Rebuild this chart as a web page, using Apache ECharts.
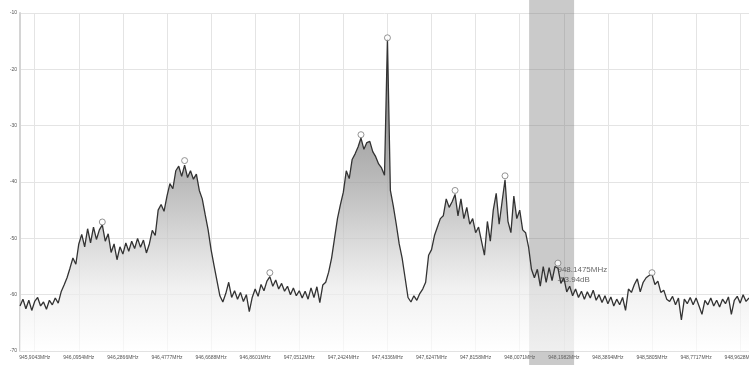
<!DOCTYPE html>
<html><head><meta charset="utf-8">
<script src="https://cdn.jsdelivr.net/npm/echarts@6/dist/echarts.min.js"></script>
<style>html,body{margin:0;padding:0;background:#fff}#c{width:749px;height:365px}</style>
</head><body><div id="c"></div>
<script>
// ---- data ----
const tickLabels = ['945,9043MHz','946,0954MHz','946,2866MHz','946,4777MHz','946,6688MHz','946,8601MHz',
  '947,0512MHz','947,2424MHz','947,4336MHz','947,6247MHz','947,8158MHz','948,0071MHz','948,1982MHz',
  '948,3894MHz','948,5805MHz','948,7717MHz','948,9628MHz'];
const firstTickSample = 5;      // sample index of first tick label
const samplesPerTick = 15;      // samples between tick labels
const levels = [
 -62.0,-60.8,-62.5,-61.0,-62.8,-61.2,-60.5,-62.0,-61.3,-62.6,-61.0,-61.8,-60.6,-61.5,-59.5,
 -58.3,-57.0,-55.3,-53.5,-54.6,-51.0,-49.3,-51.5,-48.3,-50.8,-48.0,-50.2,-48.5,-47.6,-50.5,
 -49.2,-52.5,-51.0,-53.8,-51.5,-52.8,-50.8,-52.3,-50.5,-51.8,-50.0,-51.6,-50.3,-52.6,-51.0,
 -48.6,-49.5,-45.0,-44.0,-45.2,-42.5,-40.3,-41.2,-38.0,-37.2,-39.0,-37.0,-39.2,-38.0,-39.5,
 -38.6,-41.5,-43.0,-45.8,-48.5,-52.0,-54.8,-57.5,-60.2,-61.3,-59.8,-57.8,-60.5,-59.3,-60.8,
 -59.6,-61.2,-60.0,-63.0,-60.5,-59.0,-60.3,-58.2,-59.3,-57.6,-56.8,-58.5,-57.4,-59.0,-58.0,
 -59.4,-58.5,-60.0,-58.8,-60.2,-59.3,-60.6,-59.4,-60.8,-58.8,-60.5,-58.6,-61.4,-58.3,-57.8,
 -56.0,-53.5,-50.0,-46.5,-44.0,-41.8,-38.0,-39.4,-36.0,-35.0,-33.8,-32.2,-34.2,-33.0,-32.8,
 -34.6,-35.5,-36.8,-37.5,-38.8,-14.6,-41.5,-44.3,-47.5,-51.0,-53.5,-57.0,-60.5,-61.3,-60.2,
 -61.0,-59.8,-59.0,-57.8,-53.0,-52.0,-49.5,-48.0,-46.5,-46.0,-43.0,-44.5,-43.5,-42.2,-46.0,
 -43.0,-46.5,-44.5,-47.5,-46.5,-49.0,-48.0,-50.5,-53.0,-47.0,-50.5,-45.0,-42.0,-47.5,-43.5,
 -39.6,-47.0,-49.0,-42.5,-46.5,-45.0,-48.5,-49.0,-51.5,-55.5,-57.0,-55.5,-58.5,-55.0,-57.8,
 -55.2,-57.5,-55.0,-55.3,-58.0,-57.0,-59.5,-58.5,-60.2,-59.0,-60.5,-59.4,-60.8,-59.5,-60.6,
 -59.2,-61.0,-60.0,-61.4,-60.2,-61.6,-60.4,-62.0,-60.8,-61.8,-60.5,-62.8,-59.0,-59.6,-58.2,
 -57.2,-59.5,-57.8,-57.0,-56.6,-56.4,-58.2,-57.6,-59.6,-59.2,-60.8,-61.2,-60.3,-61.8,-60.6,
 -64.5,-60.8,-61.6,-60.5,-61.8,-60.6,-62.0,-63.5,-61.0,-61.8,-60.6,-62.0,-61.0,-62.2,-60.8,
 -61.6,-60.4,-63.5,-61.0,-60.3,-61.5,-60.0,-61.2,-60.6
];
const peakSamples = [28, 56, 85, 116, 125, 148, 165, 183, 215];
const peakLevels  = [-47.1, -36.2, -56.1, -31.6, -14.4, -41.5, -38.9, -54.4, -56.1];
const labelledPeak = 7;
const markerText = ['948.1475MHz', '-53.94dB'];
const bandSamples = [173.2, 188.5];
const yMin = -70, yMax = -10, yStep = 10;

// ---- chart ----
const categories = levels.map((_, i) => String(i));
const isTick = (i) => i >= firstTickSample && (i - firstTickSample) % samplesPerTick === 0;
const font = 'Liberation Sans, Arial, sans-serif';

const chart = echarts.init(document.getElementById('c'), null, {renderer: 'canvas'});
chart.setOption({
  animation: false,
  backgroundColor: '#ffffff',
  grid: [
    {left: 20, right: 0, top: 13, bottom: 14, containLabel: false, outerBoundsMode: 'none'},
    {left: 20, right: 0, top: 0, bottom: 0, containLabel: false, outerBoundsMode: 'none'}
  ],
  xAxis: [
    {
      type: 'category', gridIndex: 0, data: categories, boundaryGap: false,
      axisLine: {show: true, lineStyle: {color: '#e2e2e2', width: 1}},
      axisTick: {show: false},
      splitLine: {show: true, interval: (i) => isTick(i), lineStyle: {color: '#e4e4e4', width: 1}},
      axisLabel: {
        show: true, interval: (i) => isTick(i), margin: 4, hideOverlap: false,
        fontSize: 5, color: '#555', fontFamily: font,
        formatter: (v, i) => isTick(i) ? tickLabels[(i - firstTickSample) / samplesPerTick] : ''
      }
    },
    {type: 'value', gridIndex: 1, min: 0, max: levels.length - 1, show: false}
  ],
  yAxis: [
    {
      type: 'value', gridIndex: 0, min: yMin, max: yMax, interval: yStep,
      axisLine: {show: true, lineStyle: {color: '#d4d4d4', width: 2}},
      axisTick: {show: false},
      splitLine: {show: true, lineStyle: {color: '#e4e4e4', width: 1}},
      axisLabel: {margin: 3, fontSize: 5, color: '#555', fontFamily: font}
    },
    {type: 'value', gridIndex: 1, min: 0, max: 1, show: false}
  ],
  series: [
    {
      type: 'line', xAxisIndex: 0, yAxisIndex: 0, data: levels,
      symbol: 'none', sampling: null, z: 3,
      lineStyle: {color: '#333333', width: 1.3},
      areaStyle: {
        origin: 'start',
        color: new echarts.graphic.LinearGradient(0, 0, 0, 1, [
          {offset: 0, color: '#555555'},
          {offset: 0.32, color: '#838383'},
          {offset: 0.46, color: '#9e9e9e'},
          {offset: 0.64, color: '#c8c8c8'},
          {offset: 0.80, color: '#ebebeb'},
          {offset: 1, color: '#ffffff'}
        ])
      }
    },
    {
      type: 'scatter', xAxisIndex: 0, yAxisIndex: 0, z: 5,
      symbol: 'circle', symbolSize: 6,
      itemStyle: {color: '#ffffff', borderColor: '#7a7a7a', borderWidth: 1},
      data: peakSamples.map((s, k) => {
        const item = {value: [s, peakLevels[k]]};
        if (k === labelledPeak) {
          item.label = {
            show: true, position: [3, 5], formatter: markerText.join('\n'),
            fontSize: 8, lineHeight: 10, color: '#444', fontFamily: font, align: 'left', verticalAlign: 'top'
          };
        }
        return item;
      })
    },
    {
      type: 'scatter', xAxisIndex: 1, yAxisIndex: 1, z: 10, data: [],
      markArea: {
        silent: true,
        itemStyle: {color: 'rgba(115,115,115,0.38)'},
        data: [[{xAxis: bandSamples[0], yAxis: 0}, {xAxis: bandSamples[1], yAxis: 1}]]
      }
    }
  ]
});
</script>
</body></html>
